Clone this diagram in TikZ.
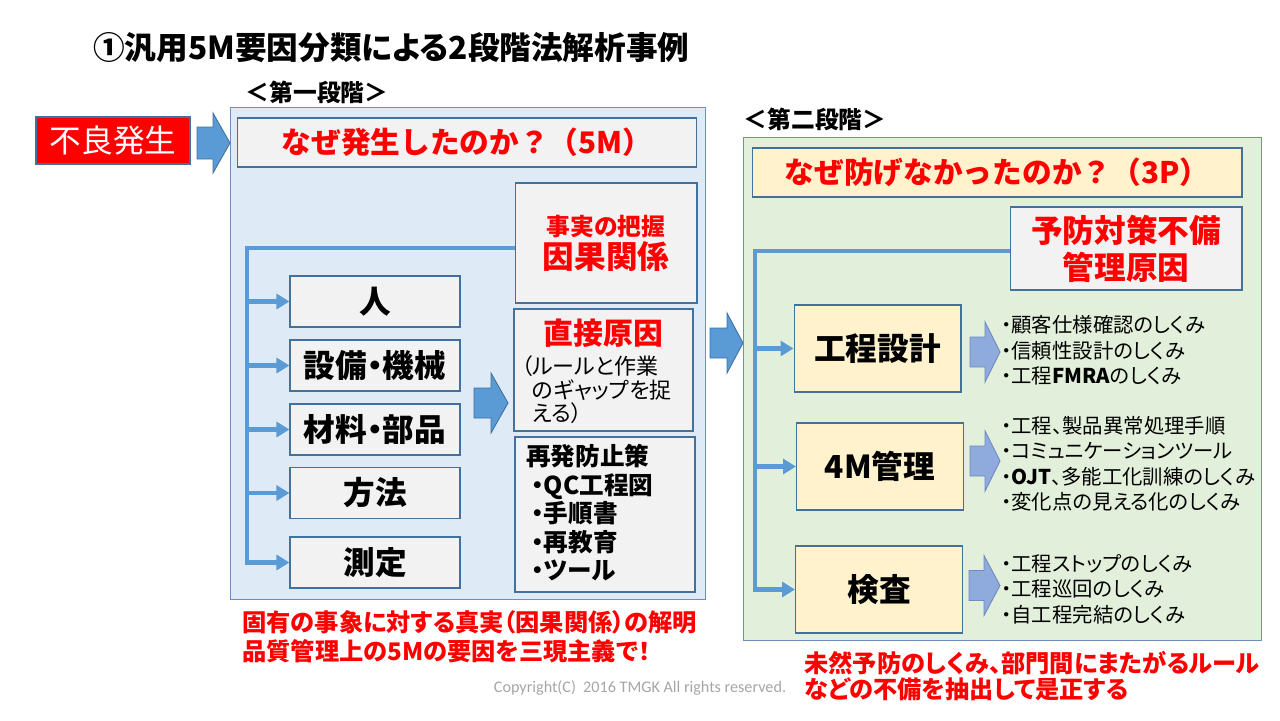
\documentclass[tikz,border=0pt]{standalone}
\usepackage{fontspec}
\setmainfont{Noto Sans CJK JP}[RawFeature=+palt]
\newfontfamily\widefont{Noto Sans CJK JP}
\newfontfamily\copyfont{Carlito}
\usetikzlibrary{arrows.meta,positioning}
\definecolor{stageblue}{HTML}{DEEBF7}
\definecolor{stagegreen}{HTML}{E2EFDA}
\definecolor{boxgray}{HTML}{F2F2F2}
\definecolor{boxyellow}{HTML}{FFF2CC}
\definecolor{frameblue}{HTML}{41719C}
\definecolor{stageframe}{HTML}{6D8FBF}
\definecolor{lineblue}{HTML}{5B9BD5}
\definecolor{paleblue}{HTML}{8FAADC}
\definecolor{paleframe}{HTML}{6F8BC0}
\definecolor{alarmred}{HTML}{FF0000}
\definecolor{copygray}{HTML}{A6A6A6}
\def\blockarrow[#1](#2,#3)(#4:#5:#6:#7){\draw[#1] (#2,#3-#5) -- (#2+#4-#7,#3-#5) -- (#2+#4-#7,#3-#6) -- (#2+#4,#3) -- (#2+#4-#7,#3+#6) -- (#2+#4-#7,#3+#5) -- (#2,#3+#5) -- cycle;}
\tikzset{
	stage/.style={draw=stageframe, line width=0.6pt, inner sep=0pt},
	box/.style={draw=frameblue, fill=boxgray, line width=0.6pt, inner sep=0pt},
	mbox/.style={box, minimum width=34mm, minimum height=10.2mm, font=\bfseries\fontsize{18pt}{21pt}\selectfont},
	pbox/.style={box, fill=boxyellow, minimum width=33.4mm, minimum height=17.4mm, font=\bfseries\fontsize{18pt}{21pt}\selectfont},
	question/.style={box, minimum height=9.8mm, text=alarmred, font=\widefont\bfseries\fontsize{16.9pt}{19pt}\selectfont},
	heading/.style={inner sep=0pt, font=\bfseries\fontsize{13.5pt}{16pt}\selectfont},
	alarm/.style={draw=frameblue, fill=alarmred, text=white, line width=0.6pt, inner sep=0pt, font=\fontsize{18pt}{21pt}\selectfont},
	link/.style={draw=lineblue, line width=2.3pt},
	tip/.style={-{Triangle[length=2.6mm,width=3mm]}},
	bigarrow/.style={fill=lineblue, draw=frameblue, line width=0.5pt},
	smallarrow/.style={fill=paleblue, draw=paleframe, line width=0.5pt},
	list/.style={anchor=west, align=left, inner sep=0pt, font=\fontsize{11.6pt}{14.5pt}\selectfont},
	note/.style={anchor=north west, align=left, inner sep=0pt, text=alarmred, font=\bfseries\fontsize{13.8pt}{16.5pt}\selectfont},
}

\begin{document}
\begin{tikzpicture}[x=0.02cm, y=-0.02cm]
	%%%%% START %%%%%
	\fill[white] (0,0) rectangle (1280,720);
	\useasboundingbox (0,0) rectangle (1280,720);

	\node[anchor=west, inner sep=0pt, font=\bfseries\fontsize{18pt}{22pt}\selectfont] (title) at (93,48) {①汎用5M要因分類による2段階法解析事例};

	% first stage
	\node[stage, fill=stageblue, minimum width=95.2mm, minimum height=98.6mm] (stage1) at (468,353.5) {};
	\node[heading] (step1) at (317,92) {＜第一段階＞};
	\node[alarm, minimum width=30.8mm, minimum height=9.4mm] (furyo) at (113,140.5) {不良発生};
	\blockarrow[bigarrow](197,143)(33:16:30:17)
	\node[question, minimum width=92mm] (why1) at (467,142.5) {なぜ発生したのか？（5M）};
	\node[box, minimum width=36.4mm, minimum height=24mm, align=center, text=alarmred, font=\bfseries] (fact) at (606,243) {{\fontsize{13.5pt}{16pt}\selectfont 事実の把握}\\[1pt]{\fontsize{18pt}{21pt}\selectfont 因果関係}};

	\node[mbox] (hito) at (375,301.5) {人};
	\node[mbox] (setsubi) at (375,365.5) {設備・機械};
	\node[mbox] (zairyo) at (375,429.5) {材料・部品};
	\node[mbox] (hoho) at (375,493) {方法};
	\node[mbox] (sokutei) at (375,562.5) {測定};

	\coordinate (trunk1) at (247,248);
	\draw[link, tip] (fact.west |- trunk1) -- (trunk1) |- (sokutei.west);
	\draw[link, tip] (trunk1 |- hito.west) -- (hito.west);
	\draw[link, tip] (trunk1 |- setsubi.west) -- (setsubi.west);
	\draw[link, tip] (trunk1 |- zairyo.west) -- (zairyo.west);
	\draw[link, tip] (trunk1 |- hoho.west) -- (hoho.west);

	\blockarrow[bigarrow](474,403)(34:15:30:17)
	\node[box, minimum width=35.8mm, minimum height=24.4mm] (direct) at (603.5,370) {};
	\node[inner sep=0pt, text=alarmred, font=\bfseries\fontsize{17pt}{20pt}\selectfont] (direct-t) at (603.5,333) {直接原因};
	\node[anchor=north west, align=left, inner sep=0pt, font=\fontsize{12.5pt}{13.6pt}\selectfont] (direct-n) at (521,355) {（ルールと作業\\\phantom{（}のギャップを捉\\\phantom{（}える）};

	\node[box, minimum width=36mm, minimum height=31mm] (prevent) at (605,514.5) {};
	\node[anchor=north west, align=left, inner sep=0pt, font=\bfseries\fontsize{14pt}{16.2pt}\selectfont] (prevent-t) at (526,444) {再発防止策\\\hspace{3pt}・QC工程図\\\hspace{3pt}・手順書\\\hspace{3pt}・再教育\\\hspace{3pt}・ツール};

	\node[note] (truth) at (242,610) {固有の事象に対する真実（因果関係）の解明\\品質管理上の5Mの要因を三現主義で！};

	\blockarrow[bigarrow](710,343)(33:15:30:16)

	% second stage
	\node[stage, fill=stagegreen, minimum width=103.8mm, minimum height=100.8mm] (stage2) at (1002.5,389) {};
	\node[heading] (step2) at (815,119) {＜第二段階＞};
	\node[question, fill=boxyellow, minimum width=98mm] (why2) at (997,172.5) {なぜ防げなかったのか？（3P）};
	\node[box, minimum width=46.4mm, minimum height=16.6mm, align=center, text=alarmred, font=\bfseries\fontsize{18pt}{21pt}\selectfont] (cause) at (1126,248.5) {予防対策不備\\管理原因};

	\node[pbox] (design) at (877.5,348.5) {工程設計};
	\node[pbox] (fourm) at (880,466.5) {4M管理};
	\node[pbox] (inspect) at (879,589.5) {検査};

	\coordinate (trunk2) at (755,251);
	\draw[link, tip] (cause.west |- trunk2) -- (trunk2) |- (inspect.west);
	\draw[link, tip] (trunk2 |- design.west) -- (design.west);
	\draw[link, tip] (trunk2 |- fourm.west) -- (fourm.west);

	\blockarrow[smallarrow](970,352)(30:15:30:15)
	\blockarrow[smallarrow](970,461)(30:15:30:15)
	\blockarrow[smallarrow](969,585.5)(31:15:30:16)

	\node[list] (design-l) at (1001,350.5) {・顧客仕様確認のしくみ\\・信頼性設計のしくみ\\・工程\textbf{FMRA}のしくみ};
	\node[list] (fourm-l) at (1001,464) {・工程、製品異常処理手順\\・コミュニケーションツール\\・\textbf{OJT}、多能工化訓練のしくみ\\・変化点の見える化のしくみ};
	\node[list] (inspect-l) at (1001,589) {・工程ストップのしくみ\\・工程巡回のしくみ\\・自工程完結のしくみ};

	\node[note, font=\bfseries\fontsize{13.8pt}{14.8pt}\selectfont] (fix) at (804,651) {未然予防のしくみ、部門間にまたがるルール\\などの不備を抽出して是正する};

	\node[inner sep=0pt, text=copygray, font=\copyfont\fontsize{9.2pt}{11pt}\selectfont] (copyright) at (640,688) {Copyright(C)\ \ 2016 TMGK All rights reserved.};
	%%%%% END %%%%%
\end{tikzpicture}
\end{document}
